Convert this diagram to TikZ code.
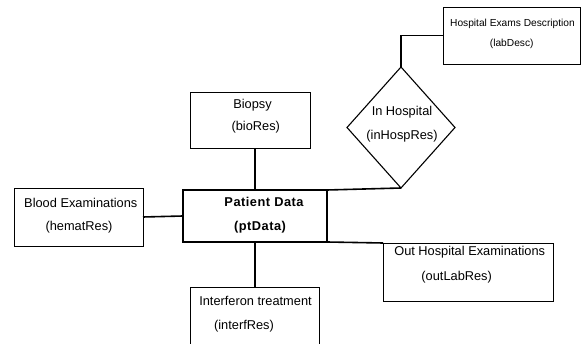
\documentclass[tikz,border=0pt]{standalone}
\usepackage{fontspec}
\setmainfont{Liberation Sans}
\newfontfamily\ptfont[LetterSpace=4]{Liberation Sans}
\usetikzlibrary{shapes.geometric}
\begin{document}
\begin{tikzpicture}[x=1pt,y=-1pt,
  box/.style={draw, line width=0.9pt, inner sep=0pt, outer sep=0pt},
  mainbox/.style={draw, line width=2.6pt, inner sep=0pt, outer sep=0pt},
  conn/.style={line width=1.6pt},
  lbl/.style={inner sep=0pt, font=\fontsize{12.8}{14}\selectfont},
  smalllbl/.style={inner sep=0pt, font=\fontsize{10.2}{12}\selectfont},
  boldlbl/.style={inner sep=0pt, font=\ptfont\bfseries\fontsize{12.8}{14}\selectfont}]
\useasboundingbox (0,0) rectangle (581,344);
\begin{scope}
\clip (0,0) rectangle (581,344);
% boxes
\node[box, minimum width=129pt, minimum height=58pt] (blood) at (78.5,217) {};
\node[mainbox, minimum width=144pt, minimum height=52pt] (pt) at (255,216) {};
\node[box, minimum width=120pt, minimum height=56pt] (bio) at (250,120) {};
\node[box, minimum width=129pt, minimum height=65pt] (interf) at (254.5,319.5) {};
\node[box, minimum width=170pt, minimum height=58pt] (out) at (468,272) {};
\node[box, minimum width=137pt, minimum height=57pt] (lab) at (511.5,35.5) {};
\node[draw, diamond, line width=1.1pt, inner sep=0pt, outer sep=0pt,
      minimum width=108pt, minimum height=121pt] (dia) at (401,127.5) {};
% connectors
\draw[conn] (blood.east) -- (pt.west);
\draw[conn] (pt.north) -- (pt.north |- bio.south);
\draw[conn] (pt.south) -- (pt.south |- interf.north);
\draw[conn] (pt.north east) -- (dia.south);
\draw[conn] (dia.north) |- (lab.west);
\draw[conn] (pt.south east) -- (out.north west);
\end{scope}
% labels
\node[lbl] (bloodA) at (80.8,203) {Blood Examinations};
\node[lbl] (bloodB) at (79,227) {(hematRes)};
\node[boldlbl] (ptA) at (264,202) {Patient Data};
\node[boldlbl] (ptB) at (260,227) {(ptData)};
\node[lbl] (bioA) at (252.5,105) {Biopsy};
\node[lbl] (bioB) at (255.8,127) {(bioRes)};
\node[lbl] (interfA) at (255.5,301) {Interferon treatment};
\node[lbl] (interfB) at (244,326) {(interfRes)};
\node[lbl] (diaA) at (402,112) {In Hospital};
\node[lbl] (diaB) at (402,136) {(inHospRes)};
\node[lbl] (outA) at (469.7,252.3) {Out Hospital Examinations};
\node[lbl] (outB) at (456.7,277.3) {(outLabRes)};
\node[smalllbl] (labA) at (512.5,24) {Hospital Exams Description};
\node[smalllbl] (labB) at (511.7,44) {(labDesc)};
\end{tikzpicture}
\end{document}
